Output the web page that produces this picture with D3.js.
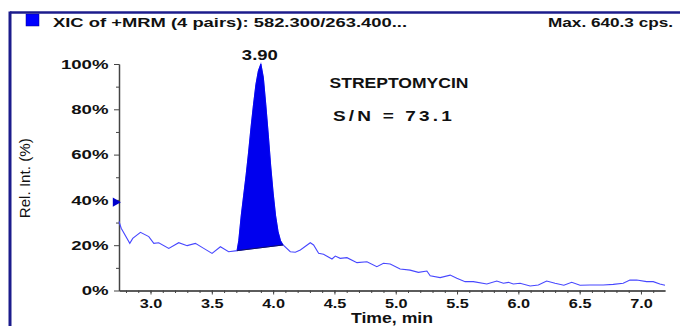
<!DOCTYPE html>
<html>
<head>
<meta charset="utf-8">
<script src="https://cdn.jsdelivr.net/npm/d3@7"></script>
<style>
  body { margin: 0; background: #fff; }
  svg text { font-family: "Liberation Sans", Arial, sans-serif; fill: #111; }
  .axis path, .axis line { stroke: #444; }
</style>
</head>
<body>
<div id="chart"></div>
<script>
// time (min) and relative intensity (%) of the XIC trace
var traceTime = [2.743, 2.761, 2.831, 2.855, 2.918, 2.986, 3.027, 3.067, 3.149, 3.230,
    3.299, 3.366, 3.434, 3.502, 3.570, 3.637, 3.706,
    4.081, 4.140, 4.181, 4.222, 4.303, 4.330, 4.371, 4.411, 4.480, 4.507, 4.547, 4.602,
    4.684, 4.765, 4.846, 4.900, 4.955, 5.036, 5.117, 5.185, 5.254, 5.281, 5.362, 5.444,
    5.498, 5.566, 5.633, 5.743, 5.824, 5.878, 5.919, 5.959, 6.014, 6.096, 6.163, 6.231,
    6.299, 6.371, 6.435, 6.503, 6.584, 6.692, 6.774, 6.855, 6.910, 6.965, 7.046, 7.100,
    7.154, 7.196];
var traceInt = [30.5, 27.5, 20.8, 23.0, 25.7, 23.8, 20.8, 21.1, 18.6, 21.1,
    19.8, 20.8, 18.6, 16.4, 19.3, 17.1, 17.6,
    20.1, 17.1, 16.9, 17.9, 21.1, 20.1, 16.4, 16.0, 13.9, 15.2, 14.2, 14.5,
    12.3, 12.7, 10.5, 12.0, 11.7, 9.5, 9.0, 8.0, 8.6, 6.5, 5.7, 6.8,
    5.4, 3.9, 3.9, 2.9, 4.2, 3.2, 3.6, 2.9, 3.2, 2.0, 2.4, 4.2,
    3.2, 2.3, 3.6, 2.3, 2.4, 2.4, 2.7, 3.2, 4.6, 4.6, 3.9, 3.9,
    2.9, 2.3];

// integrated peak at 3.90 min
var peakTime = [3.706, 3.72, 3.74, 3.76, 3.78, 3.80, 3.82, 3.84, 3.86, 3.88, 3.90,
    3.92, 3.94, 3.96, 3.98, 4.00, 4.02, 4.04, 4.06, 4.081];
var peakInt = [17.6, 22, 33, 42, 51, 61, 72, 82, 91, 97, 100,
    94, 82, 69, 55, 43, 33, 26, 22, 20.1];

var xTicks = [3.0, 3.5, 4.0, 4.5, 5.0, 5.5, 6.0, 6.5, 7.0];
var yTicks = [0, 20, 40, 60, 80, 100];
var markerLevel = 39;

var W = 680, H = 326;
var margin = {top: 64, right: 15, bottom: 35.5, left: 119};
var width = W - margin.left - margin.right;
var height = H - margin.top - margin.bottom;

var svg = d3.select("#chart").append("svg")
    .attr("width", W)
    .attr("height", H);

// stretch text horizontally like the screenshot
function stretch(sel, factor) {
    sel.each(function() {
        var len = this.getComputedTextLength();
        d3.select(this).attr("textLength", len * factor).attr("lengthAdjust", "spacingAndGlyphs");
    });
}

// frame
svg.append("line").attr("x1", 10).attr("x2", W).attr("y1", 12.5).attr("y2", 12.5)
    .attr("stroke", "#1c1c8c").attr("stroke-width", 2.5);
svg.append("line").attr("x1", 10).attr("x2", 10).attr("y1", 11.5).attr("y2", H)
    .attr("stroke", "#1c1c8c").attr("stroke-width", 3);

// header
svg.append("rect").attr("x", 26).attr("y", 14).attr("width", 13).attr("height", 12)
    .attr("fill", "#0000ff").attr("stroke", "#00008a").attr("stroke-width", 0.5);
svg.append("text").attr("x", 53).attr("y", 26.7)
    .style("font-size", "13px").style("font-weight", "bold")
    .attr("textLength", 354).attr("lengthAdjust", "spacingAndGlyphs")
    .text("XIC of +MRM (4 pairs): 582.300/263.400...");
svg.append("text").attr("x", 673).attr("y", 26.7).attr("text-anchor", "end")
    .style("font-size", "13px").style("font-weight", "bold")
    .attr("textLength", 125).attr("lengthAdjust", "spacingAndGlyphs")
    .text("Max. 640.3 cps.");

var g = svg.append("g")
    .attr("transform", "translate(" + margin.left + "," + margin.top + ")");

var xScale = d3.scaleLinear().domain([2.743, 7.196]).range([0, width]);
var yScale = d3.scaleLinear().domain([0, 100]).range([height, 0]);

// minor ticks
g.append("g")
    .attr("class", "axis")
    .attr("transform", "translate(0," + height + ")")
    .call(d3.axisBottom(xScale).tickValues(d3.range(28, 72).map(d => d / 10))
          .tickSize(2.5).tickSizeOuter(0).tickFormat(""));
g.append("g")
    .attr("class", "axis")
    .call(d3.axisLeft(yScale).tickValues([10, 30, 50, 70, 90])
          .tickSize(3).tickSizeOuter(0).tickFormat(""));

// X axis
var xAxis = g.append("g")
    .attr("class", "axis")
    .attr("transform", "translate(0," + height + ")")
    .call(d3.axisBottom(xScale).tickValues(xTicks).tickSize(4).tickSizeOuter(0)
          .tickFormat(d3.format(".1f")));
xAxis.select(".domain").attr("stroke-width", 1.5);
xAxis.selectAll("text")
    .attr("y", 8).attr("dy", "0.71em")
    .style("font-size", "13px").style("font-weight", "bold").attr("fill", "#111")
    .call(stretch, 1.25);

// Y axis
var yAxis = g.append("g")
    .attr("class", "axis")
    .call(d3.axisLeft(yScale).tickValues(yTicks).tickSize(5).tickSizeOuter(0)
          .tickFormat(d => d + "%"));
yAxis.select(".domain").attr("stroke-width", 1.5);
yAxis.selectAll("text")
    .attr("x", -10.5).attr("dy", "0.36em")
    .style("font-size", "12px").style("font-weight", "bold").attr("fill", "#111")
    .call(stretch, 1.55);

// axis titles
svg.append("text")
    .attr("x", 392).attr("y", 323.3).attr("text-anchor", "middle")
    .style("font-size", "14px").style("font-weight", "bold")
    .attr("textLength", 82).attr("lengthAdjust", "spacingAndGlyphs")
    .text("Time, min");
svg.append("text")
    .attr("transform", "translate(30," + (margin.top + yScale(50) + 1) + ") rotate(-90)")
    .attr("text-anchor", "middle")
    .style("font-size", "14px")
    .attr("textLength", 80).attr("lengthAdjust", "spacingAndGlyphs")
    .text("Rel. Int. (%)");

// trace
var line = d3.line()
    .x(d => xScale(d[0]))
    .y(d => yScale(d[1]));

var peak = peakTime.map((t, i) => [t, peakInt[i]]);
var pre = traceTime.map((t, i) => [t, traceInt[i]]).filter(d => d[0] <= 3.706);
var post = traceTime.map((t, i) => [t, traceInt[i]]).filter(d => d[0] >= 4.081);

g.append("path")
    .datum(pre.concat(peak.slice(1, -1), post))
    .attr("fill", "none")
    .attr("stroke", "#4747ff")
    .attr("stroke-width", 1.1)
    .attr("d", line);

// filled peak, closed along a straight baseline
g.append("path")
    .datum(peak)
    .attr("fill", "#0000ee")
    .attr("stroke", "#0000ee")
    .attr("stroke-width", 0.8)
    .attr("d", d => line(d) + "Z");
g.append("line")
    .attr("x1", xScale(peak[0][0])).attr("y1", yScale(peak[0][1]))
    .attr("x2", xScale(peak[peak.length - 1][0])).attr("y2", yScale(peak[peak.length - 1][1]))
    .attr("stroke", "#101060").attr("stroke-width", 1);

// peak label
g.append("text")
    .attr("x", xScale(3.90) - 1).attr("y", yScale(100) - 4.5)
    .attr("text-anchor", "middle")
    .style("font-size", "15px").style("font-weight", "bold")
    .attr("textLength", 36).attr("lengthAdjust", "spacingAndGlyphs")
    .text("3.90");

// level marker on the y axis
g.append("path")
    .attr("d", d3.symbol().type(d3.symbolTriangle).size(38))
    .attr("transform", "translate(" + (-3.5) + "," + yScale(markerLevel) + ") rotate(90)")
    .attr("fill", "#0000cc");

// annotations
svg.append("text").attr("x", 329.5).attr("y", 88.3)
    .style("font-size", "15px").style("font-weight", "bold")
    .attr("textLength", 139).attr("lengthAdjust", "spacingAndGlyphs")
    .text("STREPTOMYCIN");
svg.append("text").attr("x", 333).attr("y", 121)
    .style("font-size", "15px").style("font-weight", "bold")
    .style("letter-spacing", "2.5px")
    .attr("textLength", 122).attr("lengthAdjust", "spacingAndGlyphs")
    .text("S/N = 73.1");
</script>
</body>
</html>
